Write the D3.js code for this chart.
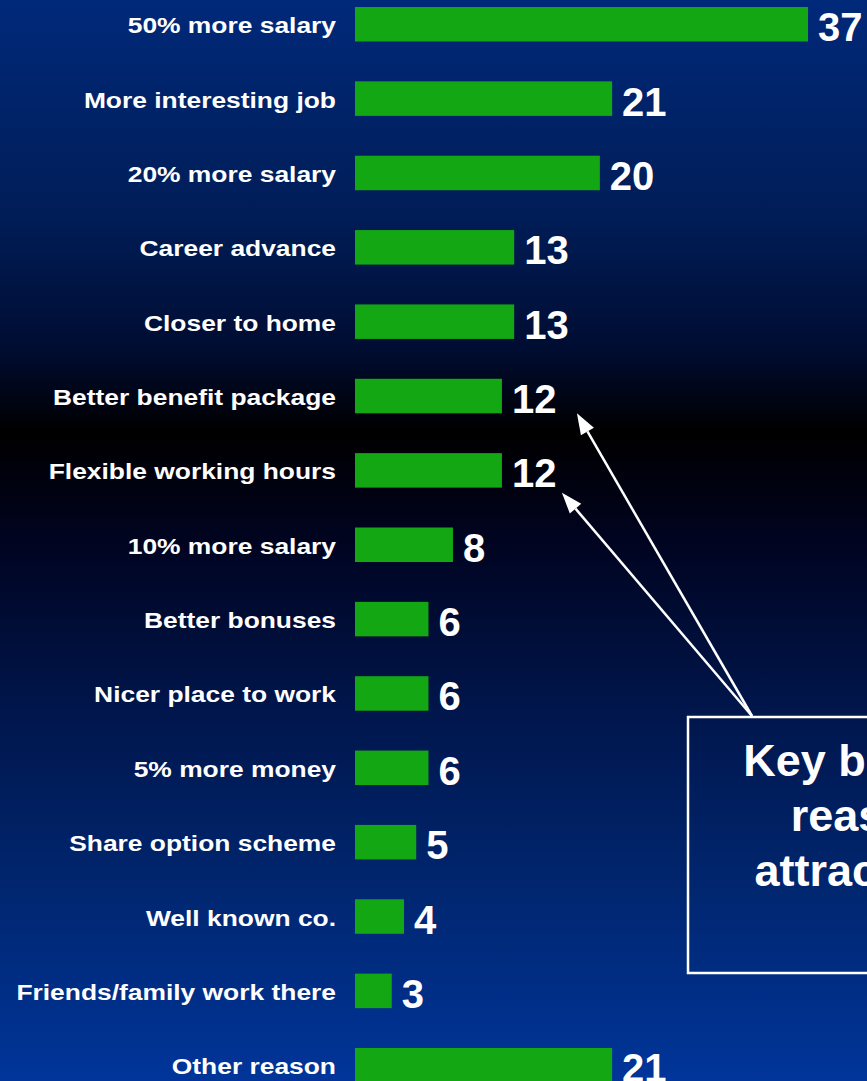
<!DOCTYPE html>
<html>
<head>
<meta charset="utf-8">
<script src="https://cdn.jsdelivr.net/npm/d3@7"></script>
<style>
  html, body { margin: 0; padding: 0; background: #000; }
  svg { display: block; }
</style>
</head>
<body>
<svg width="867" height="1081"></svg>
<script>
// reasons to move job, % of respondents
var reasons = [
  "50% more salary", "More interesting job", "20% more salary", "Career advance",
  "Closer to home", "Better benefit package", "Flexible working hours", "10% more salary",
  "Better bonuses", "Nicer place to work", "5% more money", "Share option scheme",
  "Well known co.", "Friends/family work there", "Other reason"
];
var values = [37, 21, 20, 13, 13, 12, 12, 8, 6, 6, 6, 5, 4, 3, 21];
var calloutLines = ["Key benefits", "reasons", "attract staff"];
var calloutTargets = ["Better benefit package", "Flexible working hours"];

var svg = d3.select("svg"),
    width = +svg.attr("width"),
    height = +svg.attr("height");

var data = reasons.map(function(r, i) { return { reason: r, value: values[i] }; });

// background
var defs = svg.append("defs");
var grad = defs.append("linearGradient")
    .attr("id", "bg")
    .attr("x1", 0).attr("y1", 0).attr("x2", 0).attr("y2", 1);
[[0, "#00297a"], [0.2, "#001d57"], [0.32, "#000d33"], [0.4, "#000000"],
 [0.5, "#000420"], [0.65, "#00154a"], [0.82, "#00266f"], [1, "#00359a"]]
  .forEach(function(s) { grad.append("stop").attr("offset", s[0]).attr("stop-color", s[1]); });

svg.append("rect")
    .attr("width", width)
    .attr("height", height)
    .attr("fill", "url(#bg)");

var x = d3.scaleLinear()
    .domain([0, 37])
    .range([355, 808]);

var y = d3.scaleBand()
    .domain(reasons)
    .range([7, 1082.5])
    .paddingInner(0.536)
    .paddingOuter(0);

var g = svg.append("g");

g.selectAll(".bar")
  .data(data)
  .enter().append("rect")
    .attr("class", "bar")
    .attr("x", x(0))
    .attr("y", function(d) { return y(d.reason); })
    .attr("width", function(d) { return x(d.value) - x(0); })
    .attr("height", y.bandwidth())
    .attr("fill", "#13a813");

g.selectAll(".label")
  .data(data)
  .enter().append("text")
    .attr("class", "label")
    .attr("transform", function(d) {
      return "translate(336," + (y(d.reason) + y.bandwidth() / 2 + 9) + ") scale(1.2,1)";
    })
    .attr("text-anchor", "end")
    .attr("fill", "#fff")
    .style("font", "bold 22px 'Liberation Sans', Arial, sans-serif")
    .text(function(d) { return d.reason; });

g.selectAll(".value")
  .data(data)
  .enter().append("text")
    .attr("class", "value")
    .attr("x", function(d) { return x(d.value) + 10; })
    .attr("y", function(d) { return y(d.reason) + y.bandwidth() / 2 + 17; })
    .attr("fill", "#fff")
    .style("font", "bold 40px 'Liberation Sans', Arial, sans-serif")
    .text(function(d) { return d.value; });

// callout box
var box = { x: 688, y: 717, w: 380, h: 256 };
svg.append("rect")
    .attr("x", box.x)
    .attr("y", box.y)
    .attr("width", box.w)
    .attr("height", box.h)
    .attr("fill", "none")
    .attr("stroke", "#fff")
    .attr("stroke-width", 2.5);

svg.append("g").selectAll("text")
  .data(calloutLines)
  .enter().append("text")
    .attr("x", 877)
    .attr("y", function(d, i) { return 776 + i * 55; })
    .attr("text-anchor", "middle")
    .attr("fill", "#fff")
    .style("font", "bold 45px 'Liberation Sans', Arial, sans-serif")
    .text(function(d) { return d; });

// arrows from the box to the two "12" values
var origin = [752, box.y - 1];
var tips = calloutTargets.map(function(r, i) {
  var v = values[reasons.indexOf(r)];
  return i === 0
    ? [x(v) + 75, y(r) + y.bandwidth()]
    : [x(v) + 60, y(r) + y.bandwidth() + 5];
});

var arrows = svg.append("g");
tips.forEach(function(t) {
  var dx = t[0] - origin[0], dy = t[1] - origin[1],
      len = Math.sqrt(dx * dx + dy * dy),
      ux = dx / len, uy = dy / len,
      hl = 21, hw = 7.5,
      bx = t[0] - ux * hl, by = t[1] - uy * hl;
  arrows.append("line")
      .attr("x1", origin[0]).attr("y1", origin[1])
      .attr("x2", bx).attr("y2", by)
      .attr("stroke", "#fff")
      .attr("stroke-width", 2.5);
  arrows.append("path")
      .attr("d", "M" + t[0] + "," + t[1] +
                 "L" + (bx - uy * hw) + "," + (by + ux * hw) +
                 "L" + (bx + uy * hw) + "," + (by - ux * hw) + "Z")
      .attr("fill", "#fff");
});
</script>
</body>
</html>
